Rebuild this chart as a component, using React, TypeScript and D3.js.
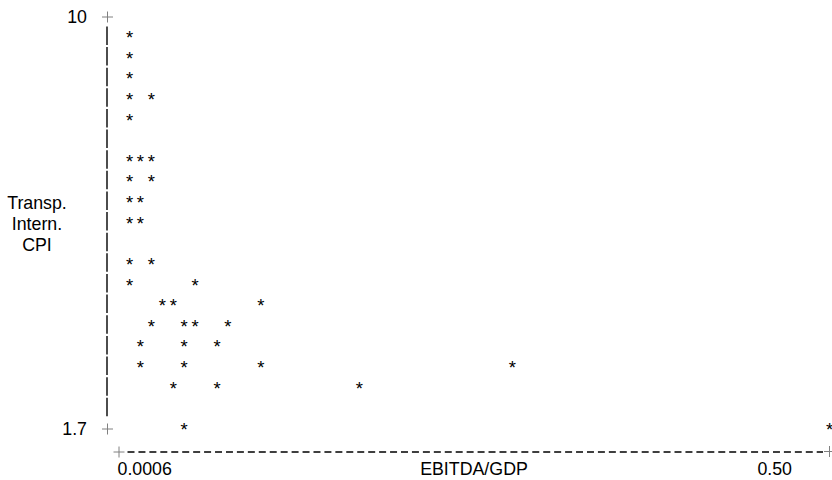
import React from "react";
import * as d3 from "d3";

// Data
const ebitdaGdp = [
  0.0006, 0.0006, 0.0006, 0.0006, 0.0162, 0.0006,
  0.0006, 0.0084, 0.0162, 0.0006, 0.0162,
  0.0006, 0.0084, 0.0006, 0.0084,
  0.0006, 0.0162, 0.0006, 0.0474,
  0.0240, 0.0318, 0.0942,
  0.0162, 0.0396, 0.0474, 0.0708,
  0.0084, 0.0396, 0.0630,
  0.0084, 0.0396, 0.0942, 0.2737,
  0.0318, 0.0630, 0.1645,
  0.0396, 0.5000,
];
const transpCpi = [
  9.585, 9.17, 8.755, 8.34, 8.34, 7.925,
  7.095, 7.095, 7.095, 6.68, 6.68,
  6.265, 6.265, 5.85, 5.85,
  5.02, 5.02, 4.605, 4.605,
  4.19, 4.19, 4.19,
  3.775, 3.775, 3.775, 3.775,
  3.36, 3.36, 3.36,
  2.945, 2.945, 2.945, 2.945,
  2.53, 2.53, 2.53,
  1.70, 1.70,
];
const xTickLabels = ["0.0006", "0.50"];
const yTickLabels = ["10", "1.7"];
const yTitleLines = ["Transp.", "Intern.", "CPI"];
const xTitle = "EBITDA/GDP";

const FONT = "'Liberation Sans', Arial, Helvetica, sans-serif";
const FS = 17.8;

export default function App() {
  const x = d3.scaleLinear().domain([0.0006, 0.5]).range([129.5, 829.7]);
  const y = d3.scaleLinear().domain([1.7, 10]).range([427, 14.4]);
  const step = (10 - 1.7) / 20;
  const rowCenters = d3.range(1, 20).map((r) => y(1.7 + r * step));
  const axisX = 107;
  const xAxisY = 452;
  const gray = "#808080";

  const plus = (cx: number, cy: number, key: string) => (
    <g key={key} stroke={gray} strokeWidth={1}>
      <line x1={cx - 5.5} x2={cx + 5.5} y1={cy} y2={cy} />
      <line x1={cx} x2={cx} y1={cy - 5.5} y2={cy + 5.5} />
    </g>
  );

  return (
    <svg
      width={832}
      height={480}
      style={{ position: "absolute", left: 0, top: 0, background: "#fff" }}
      fontFamily={FONT}
      fontSize={FS}
    >
      <rect width={832} height={480} fill="#fff" />
      {/* y axis: one bar segment per character row */}
      {rowCenters.map((c, i) => (
        <line key={"ys" + i} x1={axisX} x2={axisX} y1={c - 8.6} y2={c + 9.9} stroke="#000" strokeWidth={1.4} />
      ))}
      {plus(107.5, y(10) + 2.6, "p10")}
      {plus(107.5, y(1.7) + 2, "p17")}
      <text x={87} y={y(10) + 8.8} textAnchor="end">{yTickLabels[0]}</text>
      <text x={87} y={y(1.7) + 8.2} textAnchor="end">{yTickLabels[1]}</text>
      {/* y title */}
      {yTitleLines.map((t, i) => (
        <text key={t} x={37} y={208.5 + i * 21.3} textAnchor="middle">{t}</text>
      ))}
      {/* x axis */}
      <line x1={127.5} x2={823} y1={xAxisY} y2={xAxisY} stroke="#000" strokeWidth={1.4} strokeDasharray="7 3.94" />
      {plus(119, xAxisY, "px0")}
      {plus(829.5, xAxisY - 0.5, "px1")}
      <text x={117.5} y={474.5} textAnchor="start">{xTickLabels[0]}</text>
      <text x={792} y={474.5} textAnchor="end">{xTickLabels[1]}</text>
      <text x={474} y={474.5} textAnchor="middle">{xTitle}</text>
      {/* points */}
      {ebitdaGdp.map((v, i) => (
        <text key={"s" + i} x={x(v)} y={y(transpCpi[i]) + 9} textAnchor="middle" fontSize={18.5}>*</text>
      ))}
    </svg>
  );
}
